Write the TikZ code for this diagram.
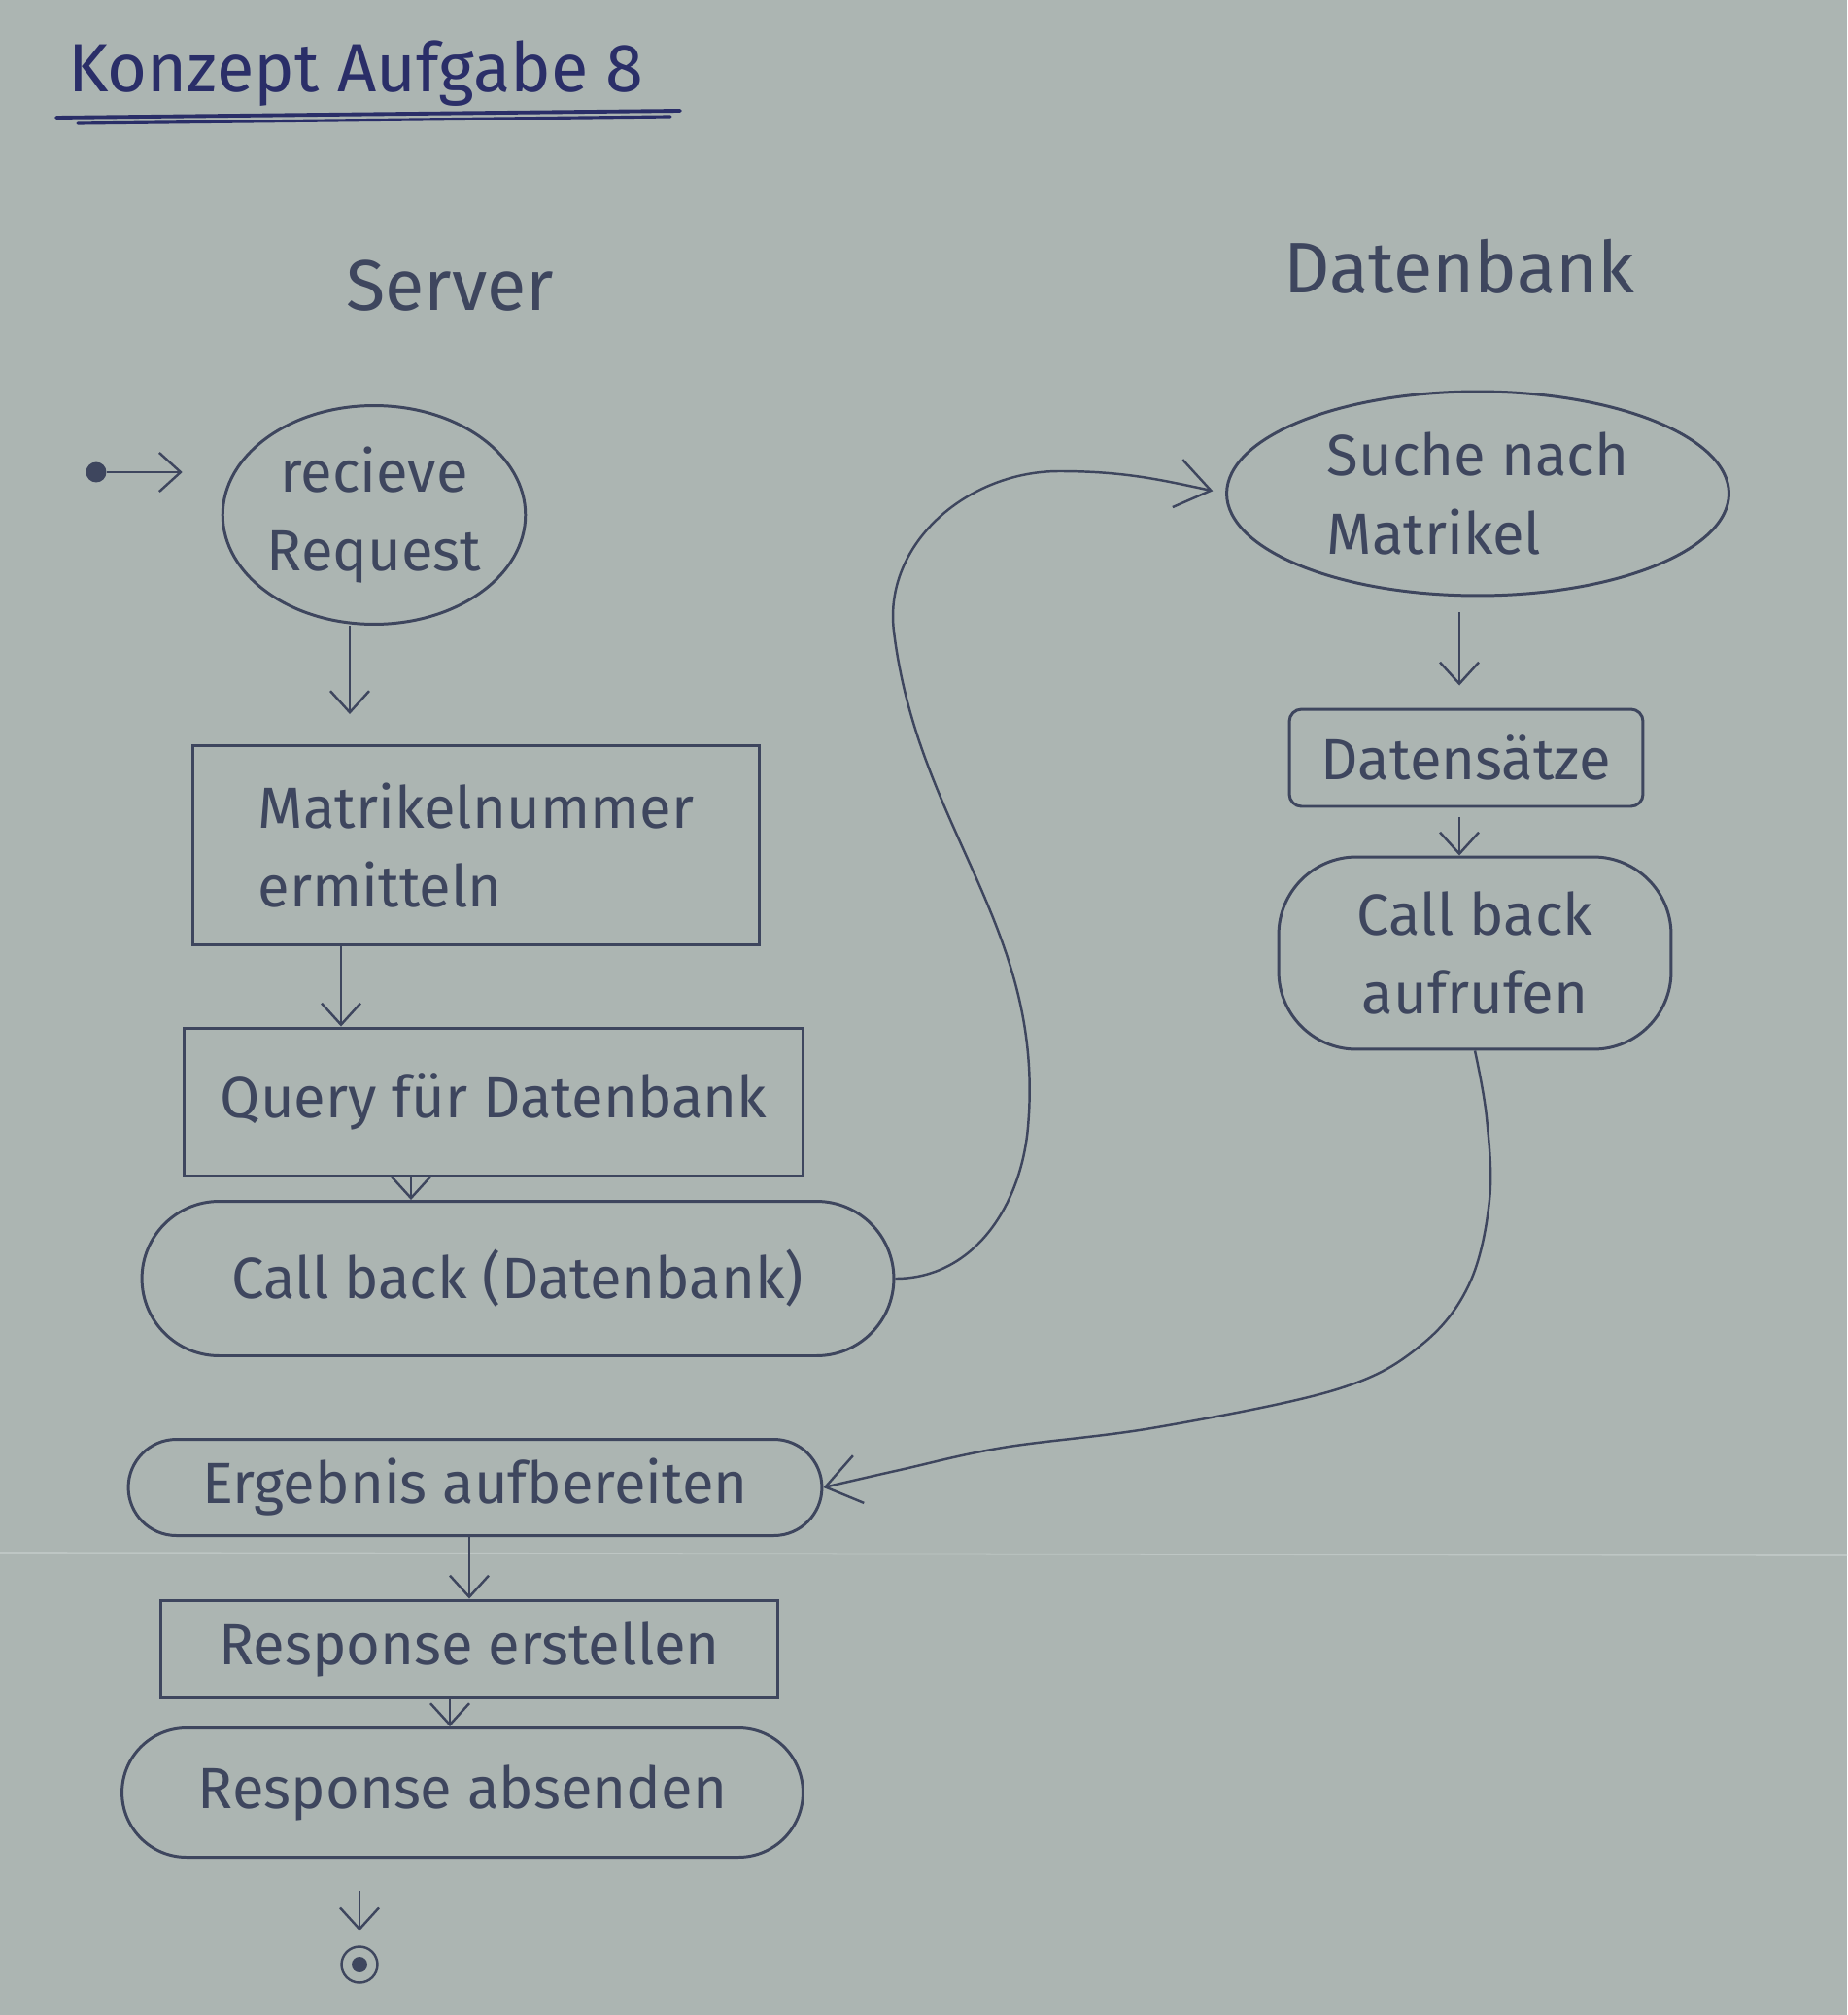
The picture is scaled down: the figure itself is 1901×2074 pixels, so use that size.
\documentclass[tikz,border=0pt]{standalone}
\usepackage{fontspec}
\setmainfont{Fira Sans}
\usetikzlibrary{arrows.meta,shapes.geometric}

\definecolor{paper}{RGB}{172,181,178}
\definecolor{ink}{RGB}{62,70,94}
\definecolor{titleink}{RGB}{42,46,104}
\definecolor{crease}{RGB}{190,198,196}

\begin{document}
\begin{tikzpicture}[x=0.02cm,y=0.02cm,
  lbl/.style={text=ink, font=\fontsize{34}{46}\selectfont},
  act/.style={draw=ink, line width=1.7pt, lbl, inner sep=0pt, align=center},
  oval/.style={act, ellipse},
  box/.style={act, rectangle},
  pill/.style={act, rectangle, rounded corners=#1},
  pill/.default=1cm,
  heading/.style={text=ink, font=\fontsize{42}{46}\selectfont},
  arr/.style={draw=ink, line width=1.4pt, -{Straight Barb[length=0.44cm,width=0.8cm]}},
  bigarr/.style={draw=ink, line width=1.4pt, -{Straight Barb[length=0.7cm,width=1.0cm]}},
  dotnode/.style={circle, fill=ink, inner sep=0pt},
]
% paper
\fill[paper] (0,0) rectangle (1901,-2074);
\useasboundingbox (0,0) rectangle (1901,-2074);
\draw[crease, line width=1pt] (0,-1598) -- (1901,-1601);

% title with double underline
\node[anchor=base west, text=titleink, font=\fontsize{40}{44}\selectfont] (title) at (64,-95) {Konzept Aufgabe 8};
\draw[titleink, line width=2.2pt, line cap=round] (58,-121) -- (700,-114);
\draw[titleink, line width=1.8pt, line cap=round] (80,-127) -- (690,-120);

% swimlane headings
\node[heading] (srv) at (463,-294) {Server};
\node[heading] (db) at (1502,-274) {Datenbank};

% server activities
\node[dotnode, minimum size=0.42cm] (start) at (99,-486) {};
\node[oval, minimum width=6.0cm, minimum height=4.5cm] (recv) at (385,-530) {recieve\\Request};
\node[box, minimum width=11.66cm, minimum height=4.1cm, align=left] (matr) at (490,-870) {Matrikelnummer\\ermitteln};
\node[box, minimum width=12.76cm, minimum height=3.04cm] (query) at (508,-1134) {Query für Datenbank};
\node[pill=1.59cm, minimum width=15.48cm, minimum height=3.18cm] (cbs) at (533,-1316) {Call back (Datenbank)};
\node[pill=0.99cm, minimum width=14.28cm, minimum height=1.98cm] (erg) at (489,-1531) {Ergebnis aufbereiten};
\node[box, minimum width=12.7cm, minimum height=2.0cm] (resp) at (483,-1697) {Response erstellen};
\node[pill=1.33cm, minimum width=14.02cm, minimum height=2.66cm] (send) at (476,-1845) {Response absenden};
\node[circle, draw=ink, line width=1.4pt, inner sep=0pt, minimum size=0.74cm] (endring) at (370,-2022) {};
\node[dotnode, minimum size=0.32cm] (endcore) at (endring) {};

% database activities
\node[oval, minimum width=10.34cm, minimum height=4.2cm, align=left] (suche) at (1521,-508) {Suche nach\\Matrikel};
\node[box, rounded corners=0.25cm, minimum width=7.28cm, minimum height=2.0cm] (saetze) at (1509,-780) {Datensätze};
\node[pill=1.6cm, minimum width=8.08cm, minimum height=3.96cm] (cbd) at (1518,-981) {Call back\\aufrufen};

% x positions of the vertical flow arrows
\coordinate (xa) at (360,0);
\coordinate (xb) at (351,0);
\coordinate (xc) at (423,0);
\coordinate (xd) at (1502,0);
\coordinate (xe) at (483,0);
\coordinate (xf) at (463,0);

% flow on the server side
\draw[arr, shorten >=0.8cm] (start) -- (recv.west |- start);
\draw[arr, shorten >=0.62cm] (recv.south -| xa) -- (matr.north -| xa);
\draw[arr] (matr.south -| xb) -- (query.north -| xb);
\draw[arr] (query.south -| xc) -- (cbs.north -| xc);
\draw[arr] (erg.south -| xe) -- (resp.north -| xe);
\draw[arr] (resp.south -| xf) -- (send.north -| xf);
\draw[arr, shorten <=0.66cm, shorten >=0.3cm] (send.south -| endring) -- (endring.north);

% flow on the database side
\draw[arr, shorten <=0.32cm, shorten >=0.46cm] (suche.south -| xd) -- (saetze.north -| xd);
\draw[arr, shorten <=0.2cm] (saetze.south -| xd) -- (cbd.north -| xd);

% calls between the lanes
\draw[bigarr, shorten >=0.26cm] (cbs.east) to[out=0,in=-95] (1058,-1160)
  to[out=85,in=-83] (920,-650)
  to[out=97,in=180] (1090,-485)
  to[out=0,in=168] (suche.west);
\draw[bigarr] plot[smooth, tension=0.6] coordinates {
  (cbd.south) (1530,-1150) (1533,-1235) (1512,-1322) (1462,-1385) (1376,-1430)
  (1191,-1469) (1032,-1490) (926,-1513) (erg.east)};
\end{tikzpicture}
\end{document}
